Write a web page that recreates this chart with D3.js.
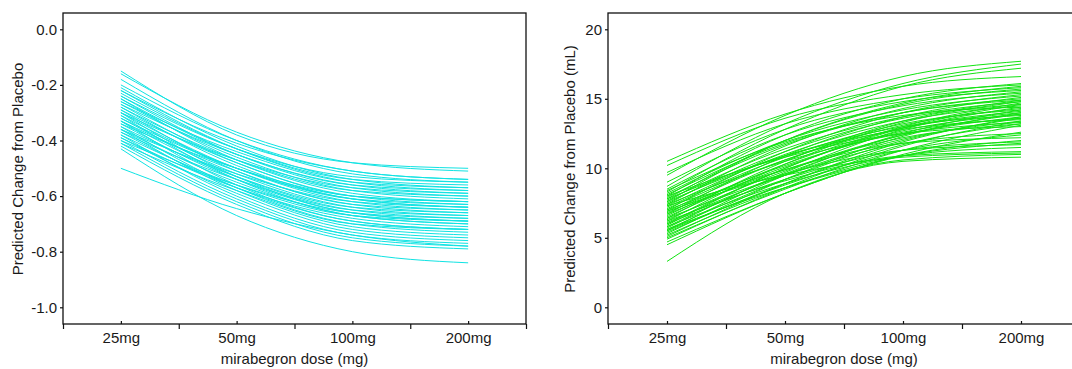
<!DOCTYPE html>
<html>
<head>
<meta charset="utf-8">
<script src="https://cdn.jsdelivr.net/npm/d3@7"></script>
<style>
  html, body { margin: 0; padding: 0; background: #fff; }
  svg { display: block; font-family: "Liberation Sans", Arial, sans-serif; }
  .axis text { font-size: 15px; fill: #1a1a1a; }
  .title { font-size: 15px; fill: #1a1a1a; }
</style>
</head>
<body>
<svg width="1072" height="369"></svg>
<script>
// doses on the x axis (log scale) and their labels
const doses = [25, 50, 100, 200];
const doseLabels = ["25mg", "50mg", "100mg", "200mg"];

// y ticks for each panel
const leftYTicks = [0, -0.2, -0.4, -0.6, -0.8, -1.0];
const rightYTicks = [0, 5, 10, 15, 20];

// left panel: predicted change from placebo, one row per simulated curve [25, 50, 100, 200 mg]
const leftCurves = [
  [-0.15, -0.38, -0.48, -0.50],
  [-0.16, -0.37, -0.48, -0.51],
  [-0.18, -0.40, -0.52, -0.55],
  [-0.20, -0.40, -0.51, -0.54],
  [-0.21, -0.42, -0.54, -0.57],
  [-0.22, -0.41, -0.51, -0.54],
  [-0.22, -0.43, -0.55, -0.58],
  [-0.23, -0.43, -0.54, -0.56],
  [-0.24, -0.45, -0.57, -0.60],
  [-0.24, -0.43, -0.53, -0.55],
  [-0.25, -0.45, -0.56, -0.59],
  [-0.25, -0.47, -0.59, -0.62],
  [-0.26, -0.44, -0.55, -0.57],
  [-0.26, -0.46, -0.58, -0.61],
  [-0.27, -0.48, -0.60, -0.63],
  [-0.27, -0.45, -0.56, -0.58],
  [-0.28, -0.49, -0.61, -0.64],
  [-0.28, -0.47, -0.58, -0.60],
  [-0.29, -0.51, -0.63, -0.66],
  [-0.29, -0.48, -0.60, -0.62],
  [-0.30, -0.50, -0.62, -0.65],
  [-0.30, -0.53, -0.66, -0.69],
  [-0.30, -0.47, -0.57, -0.59],
  [-0.31, -0.50, -0.61, -0.64],
  [-0.31, -0.54, -0.67, -0.70],
  [-0.32, -0.52, -0.64, -0.67],
  [-0.32, -0.50, -0.61, -0.63],
  [-0.33, -0.56, -0.69, -0.72],
  [-0.33, -0.51, -0.63, -0.65],
  [-0.33, -0.53, -0.65, -0.68],
  [-0.34, -0.54, -0.66, -0.69],
  [-0.34, -0.50, -0.60, -0.62],
  [-0.35, -0.57, -0.70, -0.73],
  [-0.35, -0.53, -0.64, -0.66],
  [-0.36, -0.55, -0.67, -0.70],
  [-0.36, -0.58, -0.71, -0.74],
  [-0.36, -0.52, -0.62, -0.64],
  [-0.37, -0.57, -0.69, -0.72],
  [-0.37, -0.54, -0.65, -0.67],
  [-0.38, -0.60, -0.73, -0.76],
  [-0.38, -0.56, -0.67, -0.69],
  [-0.39, -0.57, -0.68, -0.71],
  [-0.39, -0.59, -0.72, -0.75],
  [-0.40, -0.61, -0.74, -0.77],
  [-0.40, -0.56, -0.66, -0.68],
  [-0.41, -0.62, -0.75, -0.78],
  [-0.41, -0.58, -0.70, -0.72],
  [-0.42, -0.63, -0.76, -0.79],
  [-0.43, -0.67, -0.80, -0.84],
  [-0.50, -0.645, -0.74, -0.78]
];

// right panel: predicted change from placebo (mL) [25, 50, 100, 200 mg]
const rightCurves = [
  [9.5, 13.8, 16.6, 17.7],
  [8.7, 13.2, 16.1, 17.5],
  [8.3, 12.8, 15.9, 17.2],
  [10.5, 13.9, 15.9, 16.6],
  [8.0, 12.4, 15.0, 16.1],
  [10.2, 13.6, 15.3, 16.0],
  [7.6, 12.0, 14.7, 15.9],
  [9.7, 13.2, 15.0, 15.8],
  [7.8, 12.0, 14.6, 15.7],
  [9.0, 12.8, 14.8, 15.6],
  [7.4, 11.6, 14.3, 15.5],
  [8.5, 12.4, 14.5, 15.4],
  [7.0, 11.2, 14.0, 15.3],
  [8.2, 12.0, 14.2, 15.2],
  [6.7, 10.9, 13.7, 15.1],
  [7.9, 11.7, 14.0, 15.0],
  [6.4, 10.5, 13.4, 14.9],
  [8.1, 11.8, 14.0, 14.9],
  [6.2, 10.3, 13.3, 14.8],
  [7.7, 11.4, 13.7, 14.8],
  [5.9, 10.0, 13.0, 14.7],
  [7.5, 11.2, 13.6, 14.6],
  [6.0, 10.0, 12.9, 14.6],
  [7.3, 11.0, 13.4, 14.5],
  [5.7, 9.7, 12.8, 14.4],
  [8.4, 11.9, 13.8, 14.4],
  [6.9, 10.6, 13.1, 14.3],
  [5.5, 9.5, 12.5, 14.2],
  [7.2, 10.8, 13.2, 14.2],
  [6.6, 10.3, 12.9, 14.1],
  [5.3, 9.2, 12.3, 14.0],
  [7.1, 10.6, 12.9, 14.0],
  [6.5, 10.1, 12.7, 13.9],
  [5.8, 9.6, 12.4, 13.9],
  [7.6, 10.9, 13.0, 13.8],
  [6.3, 9.8, 12.4, 13.7],
  [5.1, 8.9, 11.9, 13.7],
  [6.8, 10.2, 12.6, 13.6],
  [5.6, 9.2, 12.0, 13.6],
  [7.8, 10.9, 12.8, 13.5],
  [4.9, 8.6, 11.6, 13.4],
  [6.1, 9.5, 12.1, 13.4],
  [7.4, 10.5, 12.5, 13.3],
  [5.4, 8.9, 11.7, 13.2],
  [6.7, 9.9, 12.2, 13.2],
  [5.0, 8.5, 11.3, 13.1],
  [8.0, 10.8, 12.5, 13.0],
  [4.7, 8.2, 11.0, 12.6],
  [6.4, 9.5, 11.8, 12.5],
  [5.5, 8.8, 11.3, 12.4],
  [7.0, 9.9, 11.8, 12.2],
  [4.5, 8.2, 10.9, 12.0],
  [6.0, 9.2, 11.3, 11.9],
  [5.2, 8.6, 10.9, 11.8],
  [6.9, 9.6, 11.3, 11.7],
  [5.8, 8.9, 10.9, 11.5],
  [6.2, 9.1, 10.9, 11.2],
  [7.3, 9.5, 10.8, 11.1],
  [5.6, 8.6, 10.6, 11.0],
  [3.3, 8.2, 10.5, 10.8]
];

const svg = d3.select("svg");

function drawPanel(opts) {
  const { left, right, top, bottom, yDomain, yTicks, yFormat, curves, color, yTitle, yTitleX } = opts;

  // log2 dose axis, padded half a doubling on each side
  const x = d3.scaleLog().base(2)
    .domain([doses[0] / Math.SQRT2, doses[doses.length - 1] * Math.SQRT2])
    .range([left, right]);
  const y = d3.scaleLinear().domain(yDomain).range([29.3, 307.3]);

  const halfSteps = d3.range(doses.length + 1).map(i => doses[0] * Math.pow(2, i - 0.5));

  const line = d3.line()
    .x((d, i) => x(doses[i]))
    .y(d => y(d))
    .curve(d3.curveMonotoneX);

  const g = svg.append("g");

  // the curves
  g.append("g")
    .selectAll("path")
    .data(curves)
    .join("path")
    .attr("fill", "none")
    .attr("stroke", color)
    .attr("stroke-width", 1)
    .attr("d", line);

  // frame
  g.append("rect")
    .attr("x", left).attr("y", top)
    .attr("width", right - left).attr("height", bottom - top)
    .attr("fill", "none")
    .attr("stroke", "#111")
    .attr("stroke-width", 1.3);

  // y axis
  const yAxis = g.append("g")
    .attr("class", "axis")
    .attr("transform", `translate(${left},0)`)
    .call(d3.axisLeft(y).tickValues(yTicks).tickFormat(yFormat).tickSize(3).tickPadding(3));
  yAxis.select(".domain").remove();

  // x axis labels with small inward ticks
  const xAxis = g.append("g")
    .attr("class", "axis")
    .attr("transform", `translate(0,${bottom})`)
    .call(d3.axisBottom(x).tickValues(doses).tickFormat((d, i) => doseLabels[i])
      .tickSizeInner(-3).tickSizeOuter(0).tickPadding(8.5));
  xAxis.select(".domain").remove();

  // outward minor ticks between the doses
  const minor = g.append("g")
    .attr("class", "axis")
    .attr("transform", `translate(0,${bottom})`)
    .call(d3.axisBottom(x).tickValues(halfSteps).tickFormat("").tickSizeInner(5).tickSizeOuter(0));
  minor.select(".domain").remove();

  g.selectAll(".axis line").attr("stroke", "#111").attr("stroke-width", 1.2);

  // titles
  g.append("text")
    .attr("class", "title")
    .attr("x", (left + Math.min(right, 1072 + (right - 1072))) / 2)
    .attr("y", 364)
    .attr("text-anchor", "middle")
    .text("mirabegron dose (mg)");

  g.append("text")
    .attr("class", "title")
    .attr("transform", `translate(${yTitleX},169) rotate(-90)`)
    .attr("text-anchor", "middle")
    .attr("dy", "0.35em")
    .text(yTitle);
}

drawPanel({
  left: 63, right: 526, top: 13, bottom: 324,
  yDomain: [0, -1], yTicks: leftYTicks, yFormat: d3.format(".1f"),
  curves: leftCurves, color: "#10e3e3",
  yTitle: "Predicted Change from Placebo", yTitleX: 18
});

drawPanel({
  left: 608, right: 1080, top: 13, bottom: 324,
  yDomain: [20, 0], yTicks: rightYTicks, yFormat: d3.format("d"),
  curves: rightCurves, color: "#12e312",
  yTitle: "Predicted Change from Placebo (mL)", yTitleX: 570
});

// d3 uses a proper minus sign; the reference uses a plain hyphen
svg.selectAll(".axis text").text(function () { return this.textContent.replace("−", "-"); });
</script>
</body>
</html>
